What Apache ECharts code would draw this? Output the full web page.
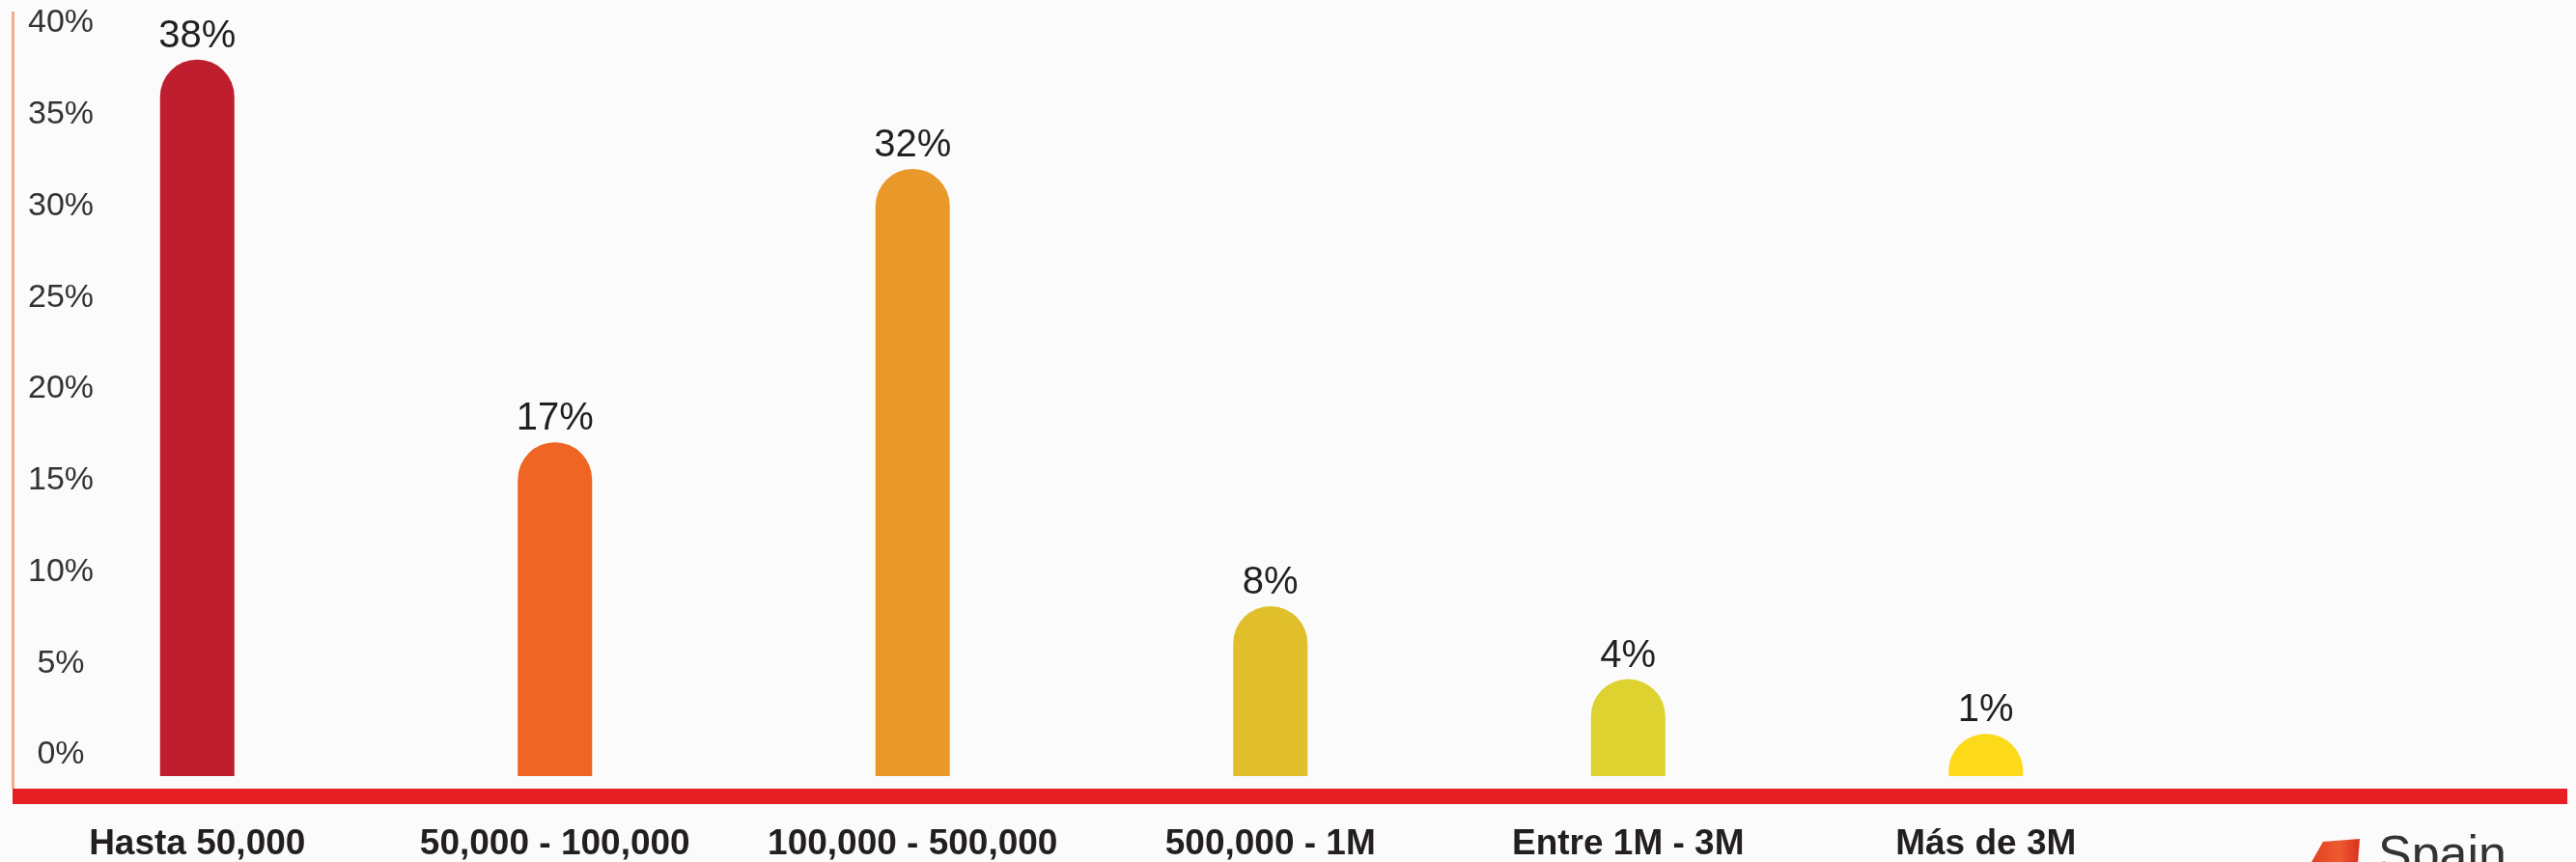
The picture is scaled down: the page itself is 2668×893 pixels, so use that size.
<!DOCTYPE html>
<html>
<head>
<meta charset="utf-8">
<script src="https://cdn.jsdelivr.net/npm/echarts@6/dist/echarts.min.js"></script>
<style>
  html, body { margin: 0; padding: 0; background: #fbfbfb; }
  #chart { width: 2668px; height: 893px; }
</style>
</head>
<body>
<div id="chart"></div>
<script>
// ---- data ----
const categories = ['Hasta 50,000', '50,000 - 100,000', '100,000 - 500,000', '500,000 - 1M', 'Entre 1M - 3M', 'Más de 3M'];
const values = [38, 17, 32, 8, 4, 1];
const barColors = ['#BE1E2D', '#EE6524', '#E8992A', '#E0BF2B', '#DED230', '#FCD919'];
const yTickValues = [0, 5, 10, 15, 20, 25, 30, 35, 40];

const FONT = "'Liberation Sans', Arial, Helvetica, sans-serif";
const chart = echarts.init(document.getElementById('chart'), null, { renderer: 'canvas' });

const option = {
  backgroundColor: '#fbfbfb',
  animation: false,
  grid: [
    { left: 13, right: 9, top: 12, bottom: 76, containLabel: false },
    { left: 19, width: 2223, top: 12, bottom: 86, containLabel: false }
  ],
  xAxis: [
    {
      gridIndex: 0, type: 'value', min: 0, max: 1, offset: 8,
      axisLine: { show: true, onZero: false, lineStyle: { color: '#E81E25', width: 16, cap: 'butt' } },
      axisTick: { show: false }, axisLabel: { show: false }, splitLine: { show: false }
    },
    {
      gridIndex: 1, type: 'category', data: categories,
      axisLine: { show: false }, axisTick: { show: false }, splitLine: { show: false },
      axisLabel: { margin: 52, fontSize: 37, fontWeight: 'bold', color: '#231F20', fontFamily: FONT, interval: 0 }
    }
  ],
  yAxis: [
    {
      gridIndex: 0, type: 'value', min: -1.848, max: 40.63,
      axisLine: { show: true, onZero: false, lineStyle: { color: '#F6A98C', width: 3, cap: 'butt' } },
      axisTick: { show: false }, splitLine: { show: false },
      axisLabel: {
        show: true, inside: true, margin: 50, align: 'center',
        customValues: yTickValues,
        formatter: v => v + '%',
        fontSize: 34, color: '#333333', fontFamily: FONT
      }
    },
    {
      gridIndex: 1, type: 'value', min: -1.32, max: 40.63, startValue: -1.32, show: false,
      splitLine: { show: false }
    }
  ],
  series: [
    {
      type: 'bar', xAxisIndex: 1, yAxisIndex: 1,
      data: values.map((v, i) => ({ value: v, itemStyle: { color: barColors[i] } })),
      barWidth: 77,
      itemStyle: { borderRadius: [38.5, 38.5, 0, 0] },
      label: {
        show: true, position: 'top', distance: 4,
        formatter: p => p.value + '%',
        fontSize: 40, color: '#231F20', fontFamily: FONT
      }
    }
  ],
  graphic: [
    {
      type: 'polygon',
      shape: { points: [[2393, 895], [2406, 872], [2444, 869], [2442, 895]] },
      style: {
        fill: new echarts.graphic.LinearGradient(0, 0, 1, 0, [
          { offset: 0, color: '#E2401F' },
          { offset: 0.6, color: '#EE5A30' },
          { offset: 1, color: '#D8301C' }
        ])
      }
    },
    {
      type: 'text', left: 2463, top: 862,
      style: { text: 'Spain', fontSize: 52, fill: '#333333', fontFamily: FONT }
    }
  ]
};
chart.setOption(option);
</script>
</body>
</html>
